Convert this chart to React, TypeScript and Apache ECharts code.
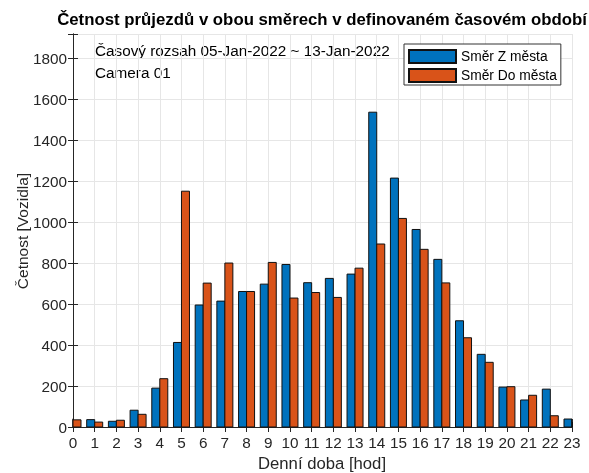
import React, { useEffect, useRef } from "react";
import * as echarts from "echarts";

const hours = [0,1,2,3,4,5,6,7,8,9,10,11,12,13,14,15,16,17,18,19,20,21,22,23];
const fromCity = [40,36,28,82,190,413,596,615,662,698,794,705,726,747,1538,1216,965,819,519,355,195,132,185,39];
const toCity = [35,24,33,62,236,1152,703,801,662,804,630,657,633,776,894,1019,868,704,436,316,197,155,55,39];
const yTicks = [0,200,400,600,800,1000,1200,1400,1600,1800];
const seriesNames = ["Směr Z města", "Směr Do města"];
const seriesColors = ["#0072BD", "#D95319"];
const titleText = "Četnost průjezdů v obou směrech v definovaném časovém období";
const noteLines = ["Časový rozsah 05-Jan-2022 ~ 13-Jan-2022", "Camera 01"];
const xName = "Denní doba [hod]";
const yName = "Četnost [Vozidla]";

const FONT = "Liberation Sans, Arial, Helvetica, sans-serif";
const AX = "#262626";
const BAR_W = 8;

export default function App() {
  const ref = useRef<HTMLDivElement>(null);
  useEffect(() => {
    if (!ref.current) return;
    const chart = echarts.init(ref.current, undefined, { renderer: "svg" });
    const tickSet = new Set(yTicks);
    const mkData = (vals: number[]) => hours.map((h, i) => [h, vals[i]]);
    const axisCommon = {
      axisLine: { show: true, lineStyle: { color: AX, width: 1 } },
      axisTick: { show: true, inside: true, length: 5, lineStyle: { color: AX } },
    };
    const makeRender = (si: number) => (params: any, api: any) => {
      const x = api.value(0);
      const y = api.value(1);
      const p0 = api.coord([x, 0]);
      const p1 = api.coord([x, y]);
      const off = si === 0 ? -BAR_W : 0;
      const cs = params.coordSys;
      const rect = echarts.graphic.clipRectByRect(
        { x: p0[0] + off, y: p1[1], width: BAR_W, height: p0[1] - p1[1] },
        { x: cs.x, y: cs.y, width: cs.width, height: cs.height }
      );
      if (!rect) return null;
      return {
        type: "rect",
        shape: rect,
        style: { fill: seriesColors[si], stroke: "#111", lineWidth: 1 },
      };
    };
    chart.setOption({
      animation: false,
      textStyle: { fontFamily: FONT },
      grid: { left: 73, right: 17, top: 34, bottom: 46, containLabel: false },
      legend: {
        orient: "vertical",
        left: 404,
        top: 44,
        itemWidth: 47,
        itemHeight: 13,
        itemGap: 4,
        padding: [5, 4, 2, 4],
        borderColor: "#333",
        borderWidth: 1,
        backgroundColor: "#fff",
        textStyle: { fontSize: 13.8, lineHeight: 13, color: "#000", fontFamily: FONT },
        icon: "rect",
        data: seriesNames,
      },
      xAxis: [
        {
          type: "value",
          min: 0,
          max: 23,
          interval: 1,
          position: "bottom",
          ...axisCommon,
          axisLabel: { color: AX, fontSize: 15.3, margin: 8, fontFamily: FONT },
          splitLine: { show: true, lineStyle: { color: "#e6e6e6", width: 1 } },
        },
        {
          type: "value",
          min: 0,
          max: 23,
          interval: 1,
          position: "top",
          ...axisCommon,
          axisLabel: { show: false },
          splitLine: { show: false },
        },
      ],
      yAxis: [
        {
          type: "value",
          min: 0,
          max: 1920,
          interval: 200,
          position: "left",
          ...axisCommon,
          axisLabel: {
            color: AX,
            fontSize: 15.3,
            margin: 6,
            fontFamily: FONT,
            formatter: (v: number) => (tickSet.has(v) ? String(v) : ""),
          },
          splitLine: { show: true, lineStyle: { color: "#e6e6e6", width: 1 } },
        },
        {
          type: "value",
          min: 0,
          max: 1920,
          interval: 200,
          position: "right",
          ...axisCommon,
          axisLabel: { show: false },
          splitLine: { show: false },
        },
      ],
      series: [0, 1].map((si) => ({
        name: seriesNames[si],
        type: "custom",
        data: mkData(si === 0 ? fromCity : toCity),
        encode: { x: 0, y: 1 },
        renderItem: makeRender(si),
        itemStyle: { color: seriesColors[si], borderColor: "#111", borderWidth: 1 },
        z: 2,
      })),
      graphic: [
        {
          type: "text",
          x: 322,
          y: 19,
          style: {
            text: titleText,
            font: `bold 16.8px ${FONT}`,
            fill: "#000",
            textAlign: "center",
            textVerticalAlign: "middle",
          },
        },
        {
          type: "text",
          x: 95,
          y: 50,
          style: {
            text: noteLines[0],
            font: `15.3px ${FONT}`,
            fill: "#000",
            textAlign: "left",
            textVerticalAlign: "middle",
          },
        },
        {
          type: "text",
          x: 95,
          y: 72,
          style: {
            text: noteLines[1],
            font: `15.3px ${FONT}`,
            fill: "#000",
            textAlign: "left",
            textVerticalAlign: "middle",
          },
        },
        {
          type: "text",
          x: 322,
          y: 463,
          style: {
            text: xName,
            font: `16.7px ${FONT}`,
            fill: AX,
            textAlign: "center",
            textVerticalAlign: "middle",
          },
        },
        {
          type: "text",
          x: 22,
          y: 231,
          rotation: Math.PI / 2,
          style: {
            text: yName,
            font: `15.5px ${FONT}`,
            fill: AX,
            textAlign: "center",
            textVerticalAlign: "middle",
          },
        },
      ],
    });
    return () => chart.dispose();
  }, []);
  return (
    <div
      ref={ref}
      style={{ position: "fixed", left: 0, top: 0, width: 589, height: 473 }}
    />
  );
}
